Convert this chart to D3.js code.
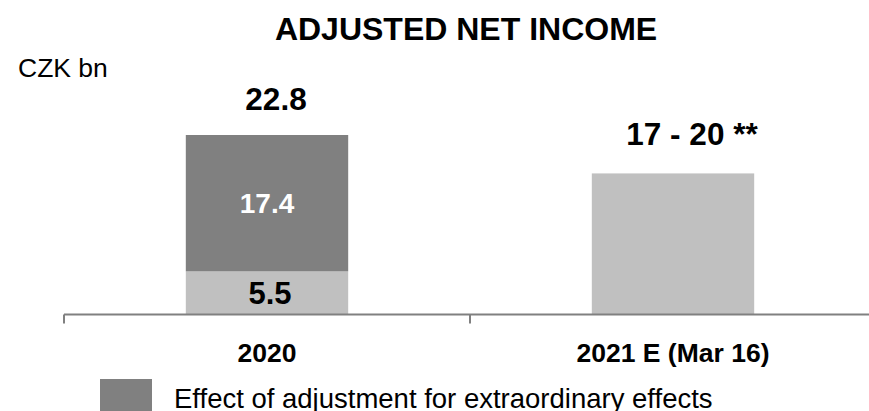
<!DOCTYPE html>
<html>
<head>
<meta charset="utf-8">
<script src="https://cdn.jsdelivr.net/npm/d3@7"></script>
<style>
  html, body { margin: 0; padding: 0; background: #fff; }
  svg { display: block; font-family: "Liberation Sans", Arial, sans-serif; }
</style>
</head>
<body>
<svg id="chart" width="869" height="411"></svg>
<script>
// Adjusted net income, CZK bn
const categories = ["2020", "2021 E (Mar 16)"];
const baseValues = [5.5, 18];          // light segment (outlook bar drawn at 18)
const adjustmentValues = [17.4, 0];    // dark segment: extraordinary effects
const totalLabels = ["22.8", "17 - 20 **"];
const legendText = "Effect of adjustment for extraordinary effects";

const svg = d3.select("#chart");
const W = 869, H = 411;

const x = d3.scaleBand().domain(categories).range([64, 876]).padding(0);
const barW = x.bandwidth() * 0.4;
const y = d3.scaleLinear().domain([0, 22.9]).range([314.5, 135]);

const DARK = "#808080", LIGHT = "#c0c0c0";

// Title
svg.append("text")
  .attr("x", 466).attr("y", 40)
  .attr("text-anchor", "middle")
  .attr("font-size", 32).attr("font-weight", "bold")
  .text("ADJUSTED NET INCOME");

svg.append("text")
  .attr("x", 18).attr("y", 77)
  .attr("font-size", 26.5)
  .text("CZK bn");

const rows = categories.map((c, i) => ({
  cat: c, base: baseValues[i], adj: adjustmentValues[i], total: totalLabels[i]
}));

const cx = d => x(d.cat) + x.bandwidth() / 2;

// Light base segments
svg.selectAll("rect.base").data(rows).enter().append("rect")
  .attr("class", "base")
  .attr("x", d => cx(d) - barW / 2)
  .attr("width", barW)
  .attr("y", d => y(d.base))
  .attr("height", d => y(0) - y(d.base))
  .attr("fill", LIGHT);

// Dark adjustment segments
svg.selectAll("rect.adj").data(rows.filter(d => d.adj > 0)).enter().append("rect")
  .attr("class", "adj")
  .attr("x", d => cx(d) - barW / 2)
  .attr("width", barW)
  .attr("y", d => y(d.base + d.adj))
  .attr("height", d => y(d.base) - y(d.base + d.adj))
  .attr("fill", DARK);

// Category axis: baseline with tick marks at band boundaries
const axisY = 314.5;
svg.append("line")
  .attr("x1", 64).attr("x2", W).attr("y1", axisY).attr("y2", axisY)
  .attr("stroke", DARK).attr("stroke-width", 2);
const tickXs = [x(categories[0]), x(categories[1])];
svg.selectAll("line.tick").data(tickXs).enter().append("line")
  .attr("class", "tick")
  .attr("x1", d => d).attr("x2", d => d)
  .attr("y1", axisY).attr("y2", axisY + 9)
  .attr("stroke", DARK).attr("stroke-width", 2);

// Category labels
svg.selectAll("text.cat").data(rows).enter().append("text")
  .attr("class", "cat")
  .attr("x", d => cx(d)).attr("y", 362)
  .attr("text-anchor", "middle")
  .attr("font-size", 26.5).attr("font-weight", "bold")
  .text(d => d.cat);

// Segment value labels
svg.selectAll("text.adjlbl").data(rows.filter(d => d.adj > 0)).enter().append("text")
  .attr("class", "adjlbl")
  .attr("x", d => cx(d)).attr("y", d => (y(d.base) + y(d.base + d.adj)) / 2 + 10)
  .attr("text-anchor", "middle")
  .attr("font-size", 28).attr("font-weight", "bold").attr("fill", "#fff")
  .text(d => d.adj.toFixed(1));

svg.selectAll("text.baselbl").data(rows.filter(d => d.adj > 0)).enter().append("text")
  .attr("class", "baselbl")
  .attr("x", d => cx(d) + 3).attr("y", d => y(0) - 11)
  .attr("text-anchor", "middle")
  .attr("font-size", 31).attr("font-weight", "bold")
  .text(d => d.base.toFixed(1));

// Totals above the bars
svg.selectAll("text.total").data(rows).enter().append("text")
  .attr("class", "total")
  .attr("x", (d, i) => cx(d) + (i === 0 ? 9 : 19))
  .attr("y", (d, i) => i === 0 ? 110 : 145)
  .attr("text-anchor", "middle")
  .attr("font-size", 31.5).attr("font-weight", "bold")
  .text(d => d.total);

// Legend
svg.append("rect")
  .attr("x", 100).attr("y", 379).attr("width", 52).attr("height", 40)
  .attr("fill", DARK);
svg.append("text")
  .attr("x", 174).attr("y", 408)
  .attr("font-size", 27.5)
  .text(legendText);
</script>
</body>
</html>
